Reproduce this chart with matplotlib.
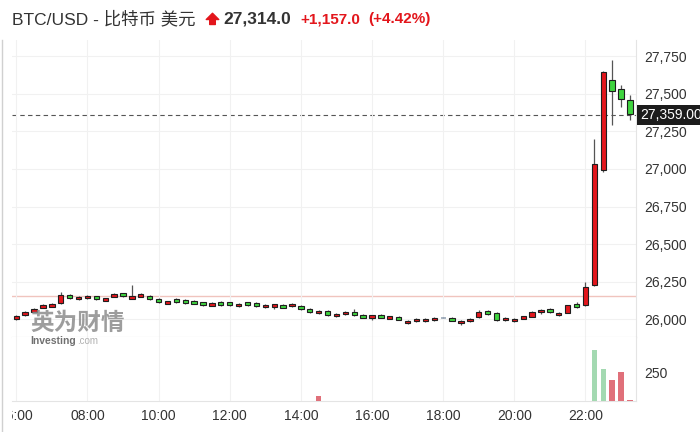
import matplotlib
matplotlib.use("Agg")
from matplotlib import pyplot as plt
from matplotlib.lines import Line2D
from matplotlib.path import Path
import matplotlib.transforms as mtransforms

# 15-minute candles, first one at 06:00
start_hour = 6.0
step_hour = 0.25

opens = [26001, 26028, 26050, 26077, 26084, 26107, 26162, 26133, 26140, 26151,
         26123, 26150, 26171, 26137, 26150, 26153, 26133, 26103, 26133, 26126,
         26124, 26111, 26090, 26113, 26111, 26087, 26111, 26106, 26079, 26083,
         26097, 26088, 26088, 26068, 26039, 26053, 26019, 26032, 26048, 26030,
         26009, 26030, 26003, 26017, 25972, 25987, 25987, 25994, 26009, 26010,
         25974, 25987, 26011, 26054, 26040, 25994, 25987, 26003, 26017, 26048,
         26066, 26026, 26044, 26099, 26091, 26225, 26994, 27593, 27533, 27459]
closes = [26021, 26048, 26070, 26097, 26104, 26163, 26142, 26149, 26156, 26131,
          26139, 26166, 26151, 26153, 26166, 26133, 26113, 26119, 26113, 26106,
          26104, 26091, 26106, 26093, 26091, 26103, 26091, 26086, 26095, 26099,
          26077, 26104, 26068, 26048, 26055, 26027, 26035, 26048, 26028, 26010,
          26025, 26010, 26019, 25997, 25988, 26003, 26003, 26010, 26009, 25990,
          25990, 26003, 26047, 26034, 25993, 26010, 26003, 26019, 26049, 26064,
          26046, 26042, 26091, 26079, 26212, 27030, 27649, 27522, 27464, 27363]
highs = [26026, 26053, 26075, 26102, 26109, 26183, 26167, 26154, 26160, 26156,
         26144, 26171, 26176, 26228, 26171, 26158, 26138, 26124, 26138, 26131,
         26129, 26116, 26111, 26118, 26116, 26108, 26116, 26111, 26100, 26104,
         26102, 26109, 26093, 26073, 26060, 26058, 26040, 26053, 26065, 26035,
         26030, 26035, 26024, 26022, 25993, 26008, 26008, 26015, 26012, 26015,
         25995, 26008, 26058, 26059, 26045, 26015, 26008, 26024, 26054, 26069,
         26071, 26047, 26096, 26111, 26248, 27202, 27655, 27727, 27560, 27492]
lows = [25996, 26023, 26045, 26072, 26079, 26103, 26137, 26128, 26135, 26126,
        26118, 26145, 26146, 26132, 26145, 26128, 26108, 26098, 26108, 26101,
        26099, 26086, 26085, 26088, 26086, 26082, 26086, 26081, 26074, 26070,
        26072, 26083, 26063, 26043, 26034, 26022, 26014, 26027, 26023, 26005,
        25995, 26005, 25998, 25992, 25967, 25982, 25982, 25989, 26006, 25985,
        25962, 25982, 26006, 26029, 25988, 25989, 25982, 25998, 26012, 26035,
        26041, 26021, 26039, 26074, 26086, 26220, 26979, 27296, 27415, 27325]

volumes = [3, 0, 0, 3, 3, 0, 0, 0, 0, 0,
           0, 0, 0, 0, 0, 0, 0, 0, 0, 0,
           0, 0, 0, 0, 0, 0, 0, 0, 0, 0,
           0, 0, 0, 0, 40, 4, 0, 0, 0, 0,
           4, 4, 0, 0, 0, 0, 0, 0, 0, 0,
           0, 0, 0, 4, 0, 0, 0, 0, 0, 0,
           0, 0, 0, 0, 4, 444, 273, 177, 252, 12]
# 1 = green bar, -1 = red bar (as shown in the volume pane)
vol_dir = [1, 1, 1, 1, 1, 1, 1, 1, 1, 1,
           1, 1, 1, 1, 1, 1, 1, 1, 1, 1,
           1, 1, 1, 1, 1, 1, 1, 1, 1, 1,
           1, 1, 1, 1, -1, -1, 1, 1, 1, 1,
           1, -1, 1, 1, 1, 1, 1, 1, 1, 1,
           1, 1, 1, -1, 1, 1, 1, 1, 1, 1,
           1, 1, 1, 1, 1, 1, 1, -1, -1, -1]

price_ticks = [26000, 26250, 26500, 26750, 27000, 27250, 27500, 27750]
hour_ticks = [6, 8, 10, 12, 14, 16, 18, 20, 22]
prev_close = 26157
last_price = 27359

RED = "#e3161c"
GREEN = "#3fd43f"
EDGE = "#1e1e1e"
TEXT = "#333333"

plt.rcParams['font.family'] = ['Liberation Sans', 'Noto Sans CJK SC', 'DejaVu Sans']

fig = plt.figure(figsize=(7, 4.32), dpi=100)
W, H = 700, 432


def box(x0, y0, x1, y1):  # pixel box (top-left origin) -> figure fraction
    return [x0 / W, 1 - y1 / H, (x1 - x0) / W, (y1 - y0) / H]


ax = fig.add_axes(box(12, 40, 636, 337))
axv = fig.add_axes(box(12, 337, 636, 401), sharex=ax)

times = [start_hour + i * step_hour for i in range(len(opens))]

# candles
for t, o, c, h, l in zip(times, opens, closes, highs, lows):
    ax.vlines(t, l, h, color="#555555", linewidth=0.9, zorder=2)
    if o == c:
        ax.hlines(o, t - 0.07, t + 0.07, color="#9aa8b8", linewidth=1.2, zorder=3)
        continue
    col = RED if c > o else GREEN
    ax.bar(t, abs(c - o), bottom=min(o, c), width=0.15, color=col,
           edgecolor=EDGE, linewidth=0.8, zorder=3)

ax.axhline(prev_close, color="#f0c4be", linewidth=1.0, zorder=1)
ax.axhline(last_price, color="#555555", linewidth=0.8, dashes=(4, 3), zorder=1)

ax.set_ylim(25881, 27859)
ax.set_xlim(5.88, 23.42)
ax.set_yticks(price_ticks)
ax.set_yticklabels([f"{v:,}" for v in price_ticks])
ax.yaxis.tick_right()
ax.tick_params(axis="y", length=0, pad=6, labelsize=10, labelcolor=TEXT)
ax.tick_params(axis="x", length=0, labelbottom=False)
ax.set_xticks(hour_ticks)
ax.grid(True, color="#f1f1f1", linewidth=0.8, zorder=0)
for side in ["top", "left"]:
    ax.spines[side].set_visible(False)
ax.spines["right"].set_color("#e4e4e4")
ax.spines["bottom"].set_color("#cfcfcf")

# last price tag
trans = mtransforms.blended_transform_factory(ax.transAxes, ax.transData)
ax.text(1.007, last_price, "27,359.00", transform=trans, color="white",
        fontsize=10, va="center", ha="left", clip_on=False,
        bbox=dict(boxstyle="square,pad=0.22", facecolor="#1c1c1c", edgecolor="none"))

# volume
vcols = ["#a3d9b1" if d > 0 else "#e0707a" for d in vol_dir]
axv.bar(times, volumes, width=0.15, color=vcols, zorder=3)
axv.set_ylim(0, 552)
axv.set_yticks([250])
axv.yaxis.tick_right()
axv.tick_params(axis="y", length=0, pad=6, labelsize=10, labelcolor=TEXT)
axv.set_xticks(hour_ticks)
axv.set_xticklabels([f"{h:02d}:00" for h in hour_ticks])
axv.tick_params(axis="x", length=0, pad=6, labelsize=10, labelcolor=TEXT)
axv.grid(True, axis="x", color="#f1f1f1", linewidth=0.8, zorder=0)
for side in ["top", "left"]:
    axv.spines[side].set_visible(False)
axv.spines["right"].set_color("#e4e4e4")
axv.spines["bottom"].set_color("#e4e4e4")

# time labels are cut at the left edge of the chart area
clip = mtransforms.TransformedBbox(mtransforms.Bbox([[12 / W, 0], [1, 1]]), fig.transFigure)
for lbl in axv.get_xticklabels():
    lbl.set_clip_on(True)
    lbl.set_clip_box(clip)

# watermark
fig.text(30 / W, 1 - 323 / H, "英为财情", family=["Noto Sans CJK SC"], fontsize=17,
         fontweight="bold", color="#8c8c8c", alpha=0.85, va="center", ha="left")
fig.text(30 / W, 1 - 341 / H, "Investing", fontsize=7.5, fontweight="bold",
         color="#707070", va="center", ha="left")
fig.text(77 / W, 1 - 341 / H, ".com", fontsize=7, color="#b0b0b0", va="center", ha="left")

# header
fig.text(12 / W, 1 - 19 / H, "BTC/USD - 比特币 美元", fontsize=12.5, color=TEXT,
         va="center", ha="left")
arrow = Path([(0, 1), (1, 0), (0.45, 0), (0.45, -0.8), (-0.45, -0.8), (-0.45, 0),
              (-1, 0), (0, 1)], closed=True)
fig.add_artist(Line2D([212 / W], [1 - 19 / H], marker=arrow, markersize=9,
                      color=RED, linestyle="none", transform=fig.transFigure))
fig.text(223 / W, 1 - 19 / H, "27,314.0", fontsize=12.5, fontweight="bold",
         color=TEXT, va="center", ha="left")
fig.text(300 / W, 1 - 19 / H, "+1,157.0", fontsize=11, fontweight="bold",
         color=RED, va="center", ha="left")
fig.text(368 / W, 1 - 19 / H, "(+4.42%)", fontsize=11, fontweight="bold",
         color=RED, va="center", ha="left")

fig.add_artist(Line2D([1.5 / W, 1.5 / W], [0, 1 - 40 / H], color="#d0d0d0", linewidth=1))

fig.savefig("out.png", dpi=100)
